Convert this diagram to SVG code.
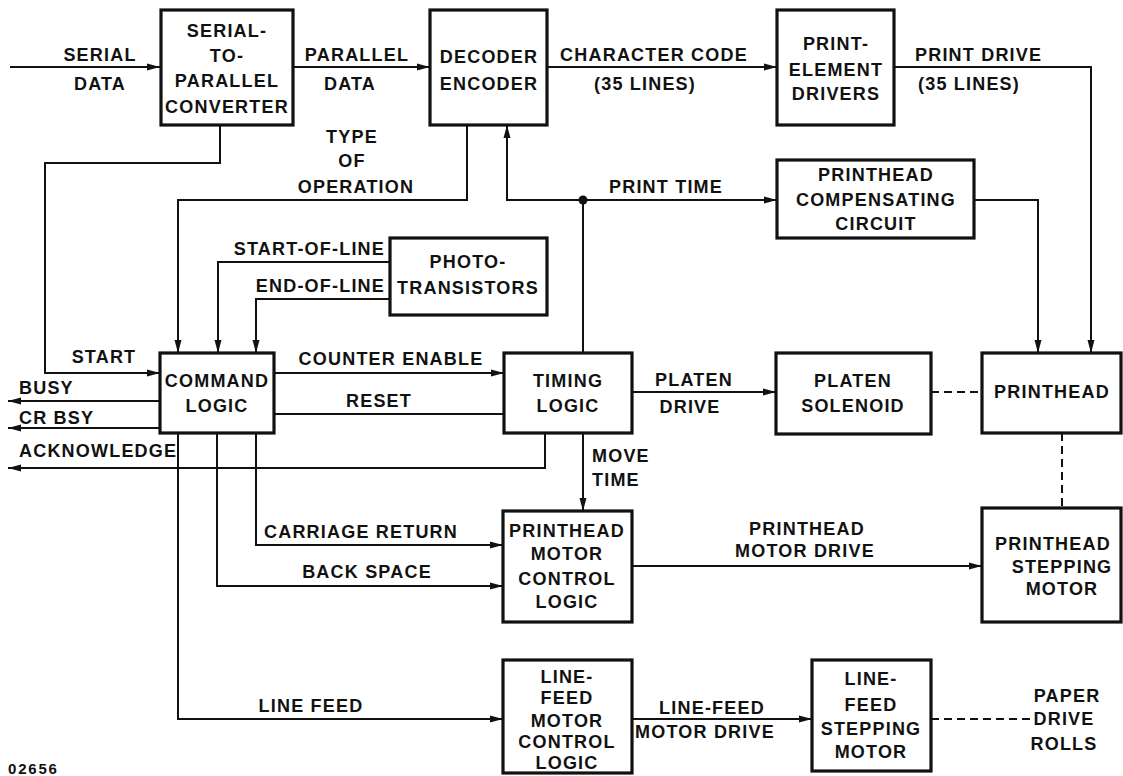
<svg xmlns="http://www.w3.org/2000/svg" width="1123" height="776" viewBox="0 0 1123 776">
<style>
text{font-family:"Liberation Sans",Arial,sans-serif;font-weight:bold;font-size:18px;letter-spacing:1.2px;fill:#111}
.c{text-anchor:middle}
.box{fill:#fff;stroke:#111;stroke-width:3.2}
.ln{fill:none;stroke:#111;stroke-width:2}
.ar{marker-end:url(#ah)}
.ds{fill:none;stroke:#111;stroke-width:2;stroke-dasharray:8 5}
.sm{font-size:15px;letter-spacing:1.8px}
</style>
<defs>
<marker id="ah" markerUnits="userSpaceOnUse" markerWidth="14" markerHeight="10" refX="13" refY="5" orient="auto">
<path d="M0,1.5 L13,5 L0,8.5 z" fill="#111"/>
</marker>
</defs>
<g id="connectors">
<path class="ln ar" d="M10,67 H160"/>
<path class="ln ar" d="M293,67 H430"/>
<path class="ln ar" d="M547,67 H777"/>
<path class="ln ar" d="M894,67 H1091 V353"/>
<path class="ln ar" d="M974,200 H1038 V353"/>
<path class="ln ar" d="M220,125 V163 H45 V373 H160"/>
<path class="ln ar" d="M467,125 V200 H178 V353"/>
<path class="ln ar" d="M583,353 V200 H777"/>
<path class="ln ar" d="M583,200 H507 V125"/>
<circle cx="583" cy="200" r="4.5" fill="#111"/>
<path class="ln ar" d="M390,262 H218 V353"/>
<path class="ln ar" d="M390,299 H256 V353"/>
<path class="ln ar" d="M274,373 H504"/>
<path class="ln" d="M504,414 H274"/>
<path class="ln ar" d="M160,401 H8"/>
<path class="ln ar" d="M160,428 H8"/>
<path class="ln ar" d="M545,433 V468 H8"/>
<path class="ln ar" d="M632,392 H776"/>
<path class="ds" d="M931,392 H982"/>
<path class="ds" d="M1062,433 V508"/>
<path class="ln ar" d="M583,433 V511"/>
<path class="ln ar" d="M256,433 V545 H503"/>
<path class="ln ar" d="M217,433 V586 H503"/>
<path class="ln ar" d="M178,433 V719 H503"/>
<path class="ln ar" d="M632,566 H982"/>
<path class="ln ar" d="M632,719 H812"/>
<path class="ds" d="M931,719 H1030"/>
</g>
<g id="labels">
<text class="c" x="100" y="61">SERIAL</text>
<text class="c" x="100" y="90">DATA</text>
<text class="c" x="357" y="61">PARALLEL</text>
<text class="c" x="350" y="90">DATA</text>
<text class="c" x="654" y="61">CHARACTER CODE</text>
<text class="c" x="645" y="90">(35 LINES)</text>
<text x="915" y="61">PRINT DRIVE</text>
<text x="918" y="90">(35 LINES)</text>
<text class="c" x="352" y="143">TYPE</text>
<text class="c" x="352" y="167">OF</text>
<text class="c" x="356" y="193">OPERATION</text>
<text class="c" x="666" y="193">PRINT TIME</text>
<text x="385" y="255" style="text-anchor:end">START-OF-LINE</text>
<text x="385" y="292" style="text-anchor:end">END-OF-LINE</text>
<text class="c" x="104" y="363">START</text>
<text class="c" x="391" y="365">COUNTER ENABLE</text>
<text class="c" x="379" y="407">RESET</text>
<text x="19" y="394">BUSY</text>
<text x="19" y="424">CR BSY</text>
<text x="19" y="457">ACKNOWLEDGE</text>
<text class="c" x="694" y="386">PLATEN</text>
<text class="c" x="690" y="413">DRIVE</text>
<text x="592" y="462">MOVE</text>
<text x="592" y="486">TIME</text>
<text class="c" x="361" y="538">CARRIAGE RETURN</text>
<text class="c" x="367" y="578">BACK SPACE</text>
<text class="c" x="311" y="712">LINE FEED</text>
<text class="c" x="807" y="535">PRINTHEAD</text>
<text class="c" x="805" y="557">MOTOR DRIVE</text>
<text class="c" x="712" y="714">LINE-FEED</text>
<text class="c" x="705" y="738">MOTOR DRIVE</text>
<text class="c" x="1067" y="702">PAPER</text>
<text class="c" x="1064" y="725">DRIVE</text>
<text class="c" x="1064" y="750">ROLLS</text>
<text class="sm" x="8" y="774">02656</text>
</g>
<g id="n-converter">
<rect class="box" x="161" y="10" width="132" height="115"/>
<text class="c" x="227" y="37">SERIAL-</text>
<text class="c" x="227" y="62">TO-</text>
<text class="c" x="227" y="87">PARALLEL</text>
<text class="c" x="227" y="113">CONVERTER</text>
</g>
<g id="n-decoder">
<rect class="box" x="430" y="10" width="117" height="115"/>
<text class="c" x="489" y="63">DECODER</text>
<text class="c" x="489" y="90">ENCODER</text>
</g>
<g id="n-drivers">
<rect class="box" x="777" y="10" width="117" height="115"/>
<text class="c" x="836" y="50">PRINT-</text>
<text class="c" x="836" y="76">ELEMENT</text>
<text class="c" x="836" y="100">DRIVERS</text>
</g>
<g id="n-compensating">
<rect class="box" x="777" y="160" width="197" height="78"/>
<text class="c" x="876" y="181">PRINTHEAD</text>
<text class="c" x="876" y="206">COMPENSATING</text>
<text class="c" x="876" y="230">CIRCUIT</text>
</g>
<g id="n-photo">
<rect class="box" x="390" y="238" width="157" height="77"/>
<text class="c" x="468" y="268">PHOTO-</text>
<text class="c" x="468" y="294">TRANSISTORS</text>
</g>
<g id="n-command">
<rect class="box" x="160" y="353" width="114" height="80"/>
<text class="c" x="217" y="387">COMMAND</text>
<text class="c" x="217" y="412">LOGIC</text>
</g>
<g id="n-timing">
<rect class="box" x="504" y="353" width="128" height="80"/>
<text class="c" x="568" y="387">TIMING</text>
<text class="c" x="568" y="412">LOGIC</text>
</g>
<g id="n-platen">
<rect class="box" x="776" y="353" width="155" height="81"/>
<text class="c" x="853" y="387">PLATEN</text>
<text class="c" x="853" y="412">SOLENOID</text>
</g>
<g id="n-printhead">
<rect class="box" x="982" y="353" width="139" height="80"/>
<text class="c" x="1052" y="398">PRINTHEAD</text>
</g>
<g id="n-pmcl">
<rect class="box" x="503" y="511" width="129" height="111"/>
<text class="c" x="567" y="537">PRINTHEAD</text>
<text class="c" x="567" y="560">MOTOR</text>
<text class="c" x="567" y="585">CONTROL</text>
<text class="c" x="567" y="608">LOGIC</text>
</g>
<g id="n-psm">
<rect class="box" x="982" y="508" width="139" height="114"/>
<text class="c" x="1053" y="550">PRINTHEAD</text>
<text class="c" x="1062" y="573">STEPPING</text>
<text class="c" x="1062" y="595">MOTOR</text>
</g>
<g id="n-lfmcl">
<rect class="box" x="503" y="660" width="129" height="113"/>
<text class="c" x="567" y="683">LINE-</text>
<text class="c" x="567" y="704">FEED</text>
<text class="c" x="567" y="727">MOTOR</text>
<text class="c" x="567" y="748">CONTROL</text>
<text class="c" x="567" y="769">LOGIC</text>
</g>
<g id="n-lfsm">
<rect class="box" x="812" y="660" width="119" height="111"/>
<text class="c" x="871" y="685">LINE-</text>
<text class="c" x="871" y="711">FEED</text>
<text class="c" x="871" y="735">STEPPING</text>
<text class="c" x="871" y="758">MOTOR</text>
</g>
</svg>
